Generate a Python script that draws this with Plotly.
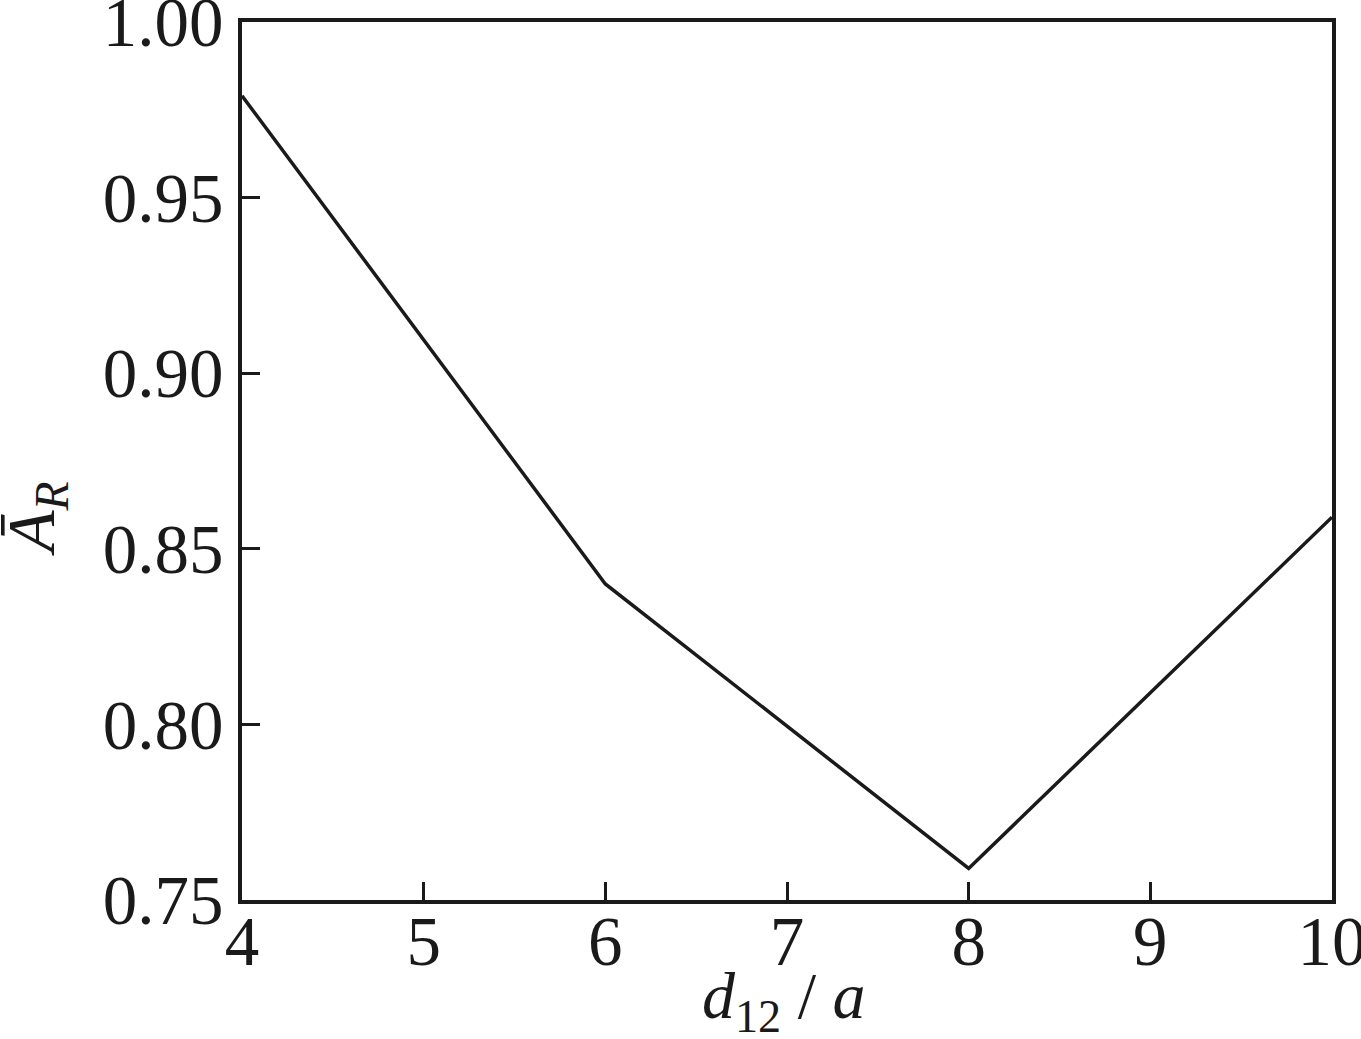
import plotly.graph_objects as go

x_vals = [4, 6, 8, 10]
y_vals = [0.979, 0.840, 0.759, 0.859]
x_ticks = [4, 5, 6, 7, 8, 9, 10]
y_ticks = [0.75, 0.80, 0.85, 0.90, 0.95, 1.00]
y_tick_text = ["0.75", "0.80", "0.85", "0.90", "0.95", "1.00"]

FONT = "Liberation Serif, Times New Roman, serif"
INK = "#1a1a1a"

fig = go.Figure()
fig.add_trace(go.Scatter(x=x_vals, y=y_vals, mode="lines",
                         line=dict(color=INK, width=3.5),
                         showlegend=False))

axis_common = dict(showline=True, linecolor=INK, linewidth=3.5,
                   mirror=True, ticks="inside", ticklen=18, tickwidth=3,
                   tickcolor=INK, showgrid=False, zeroline=False,
                   automargin=False, ticklabeloverflow="allow",
                   tickfont=dict(family=FONT, size=69, color=INK))

fig.update_xaxes(range=[4, 10], tickvals=x_ticks, ticklabelstandoff=-22,
                 **axis_common)
fig.update_yaxes(range=[0.75, 1.00], tickvals=y_ticks, ticktext=y_tick_text,
                 ticklabelstandoff=1, **axis_common)

fig.add_annotation(text="<i>d</i><sub>12</sub> / <i>a</i>",
                   xref="paper", yref="paper", x=0.497, y=-0.115,
                   xanchor="center", yanchor="middle", showarrow=False,
                   font=dict(family=FONT, size=66, color=INK))
fig.add_annotation(text="<i>Ā</i><sub><i>R</i></sub>",
                   xref="paper", yref="paper", x=-0.19, y=0.435,
                   xanchor="center", yanchor="middle", showarrow=False,
                   textangle=-90,
                   font=dict(family=FONT, size=68, color=INK))

fig.update_layout(width=1361, height=1039,
                  margin=dict(l=242, r=29, t=22, b=139),
                  plot_bgcolor="white", paper_bgcolor="white")

# remove the default page margin so the figure fills the window exactly
fig.write_html("out.html",
               config={"displayModeBar": False},
               post_script="document.body.style.margin='0';"
                           "document.body.style.overflow='hidden';")
